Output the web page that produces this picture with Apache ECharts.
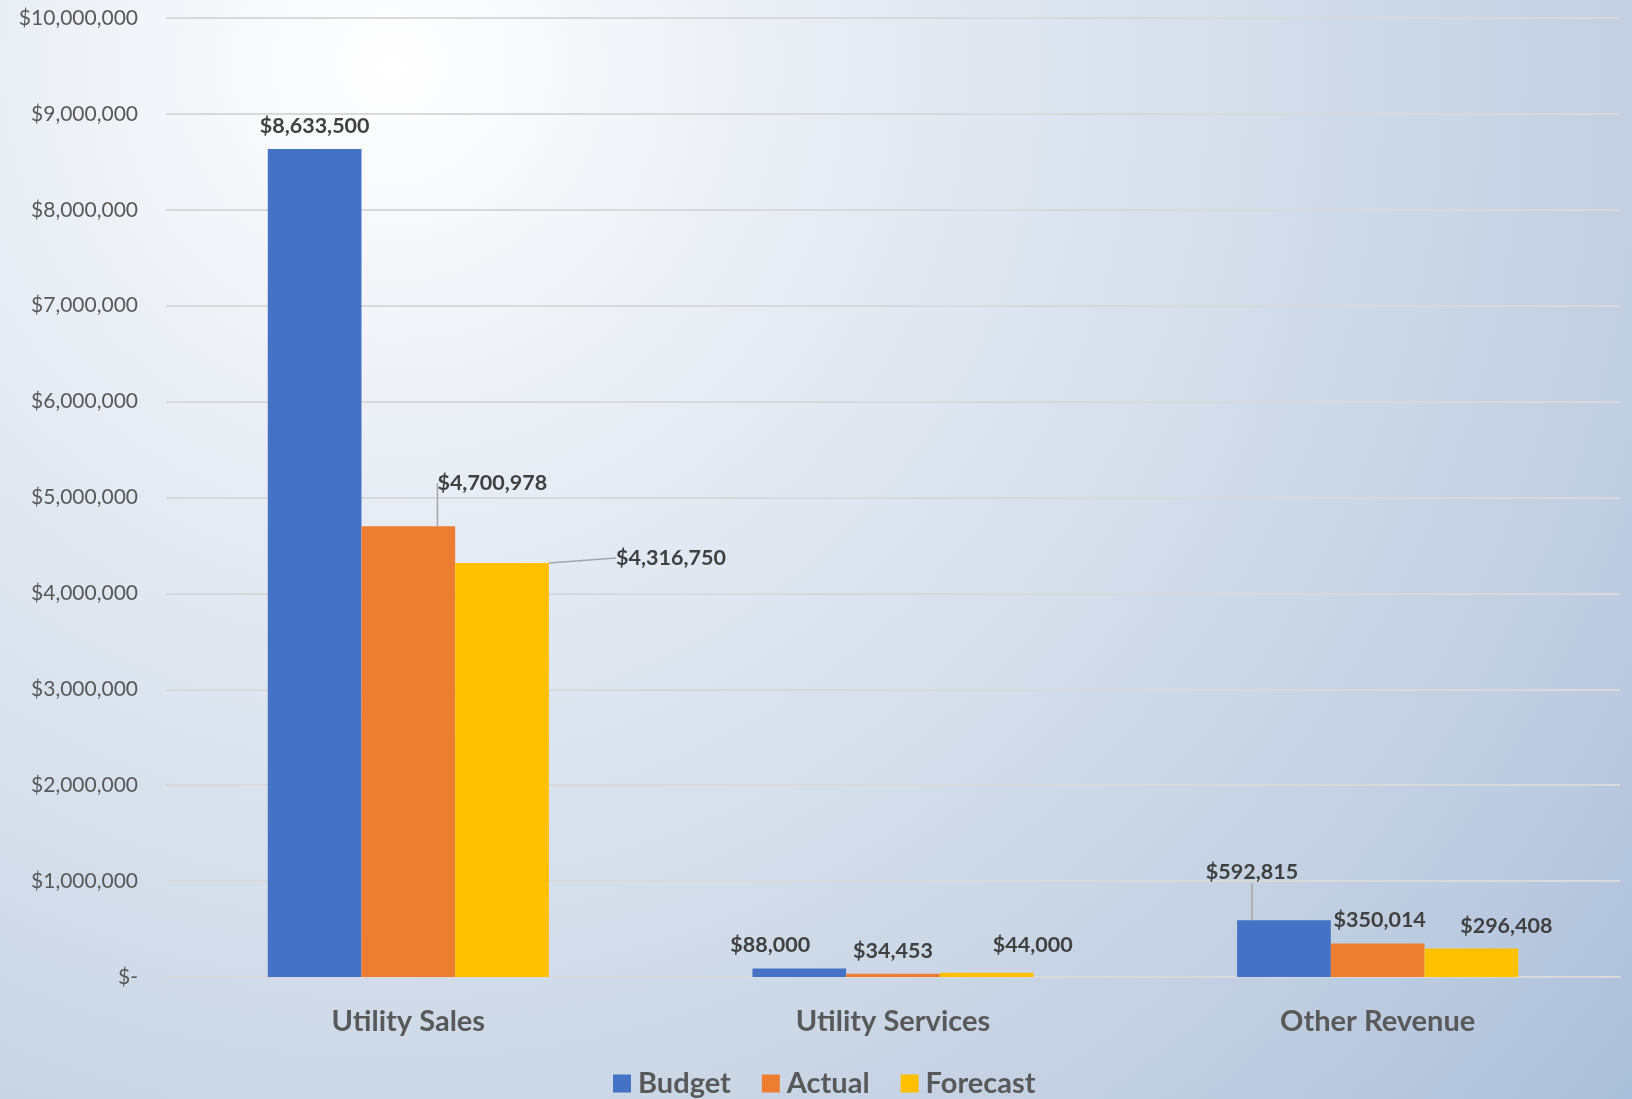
<!DOCTYPE html>
<html>
<head>
<meta charset="utf-8">
<script src="https://cdn.jsdelivr.net/npm/echarts@6/dist/echarts.min.js"></script>
<style>
html,body{margin:0;padding:0;width:1632px;height:1099px;overflow:hidden;}
#chart{width:1632px;height:1099px;}
</style>
</head>
<body>
<div id="chart"></div>
<script>
const categories = ['Utility Sales', 'Utility Services', 'Other Revenue'];
const seriesNames = ['Budget', 'Actual', 'Forecast'];
const budget = [8633500, 88000, 592815];
const actual = [4700978, 34453, 350014];
const forecast = [4316750, 44000, 296408];
const yTicks = [0, 1000000, 2000000, 3000000, 4000000, 5000000, 6000000, 7000000, 8000000, 9000000, 10000000];

const colors = ['#4472C4', '#ED7D31', '#FFC000'];
// label nudges (px) per series / category, and which labels get leader lines
const labelOffsets = [
  [[0, 0], [-29, 0], [-32, -25]],
  [[84, -20], [0, 0], [2, 0]],
  [[169, 18], [46, -5], [35, 0]]
];
const leaderLines = [
  [false, false, true],
  [true, false, false],
  [true, false, false]
];

function money(v) {
  if (v === 0) return '$-';
  return '$' + v.toLocaleString('en-US');
}

const FONT = 'Lato';
const chart = echarts.init(document.getElementById('chart'));
const allSeries = [budget, actual, forecast].map((arr, si) => ({
  name: seriesNames[si],
  type: 'bar',
  barGap: '0%',
  barCategoryGap: '42%',
  itemStyle: { color: colors[si] },
  data: arr.map((v, ci) => ({
    value: v,
    labelLine: { show: leaderLines[si][ci] }
  })),
  label: {
    show: true,
    position: 'top',
    distance: 12,
    formatter: p => money(p.value),
    fontFamily: FONT,
    fontWeight: 'bold',
    fontSize: 21.5,
    color: '#404040'
  },
  labelLine: {
    show: false,
    lineStyle: { color: '#a6a6a6', width: 1.5 }
  },
  labelLayout: function (params) {
    const o = labelOffsets[si][params.dataIndex];
    return { dx: o[0], dy: o[1] };
  }
}));

chart.setOption({
  backgroundColor: {
    type: 'radial',
    x: 0.24, y: 0.06, r: 1.47,
    colorStops: [
      { offset: 0, color: '#ffffff' },
      { offset: 0.25, color: '#e9eef5' },
      { offset: 0.75, color: '#c4d1e3' },
      { offset: 0.84, color: '#bccbe0' },
      { offset: 1, color: '#aabfd9' }
    ]
  },
  animation: false,
  grid: { left: 166, right: 12, top: 18, bottom: 122, containLabel: false },
  legend: {
    data: seriesNames,
    left: 608,
    bottom: -4,
    itemWidth: 18,
    itemHeight: 18,
    itemGap: 31,
    icon: 'rect',
    textStyle: { fontFamily: FONT, fontWeight: 'bold', fontSize: 29, color: '#595959', padding: [0, 0, 0, 2] }
  },
  xAxis: {
    type: 'category',
    data: categories,
    axisTick: { show: false },
    axisLine: { show: true, lineStyle: { color: '#d9d9d9', width: 2 } },
    axisLabel: { margin: 30, fontFamily: FONT, fontWeight: 'bold', fontSize: 29, color: '#595959' }
  },
  yAxis: {
    type: 'value',
    min: yTicks[0],
    max: yTicks[yTicks.length - 1],
    interval: yTicks[1] - yTicks[0],
    axisLine: { show: false },
    axisTick: { show: false },
    splitLine: { lineStyle: { color: '#d9d9d9', width: 2 } },
    axisLabel: { margin: 28, fontFamily: FONT, fontSize: 21, color: '#595959', formatter: money }
  },
  series: allSeries
});
</script>
</body>
</html>
